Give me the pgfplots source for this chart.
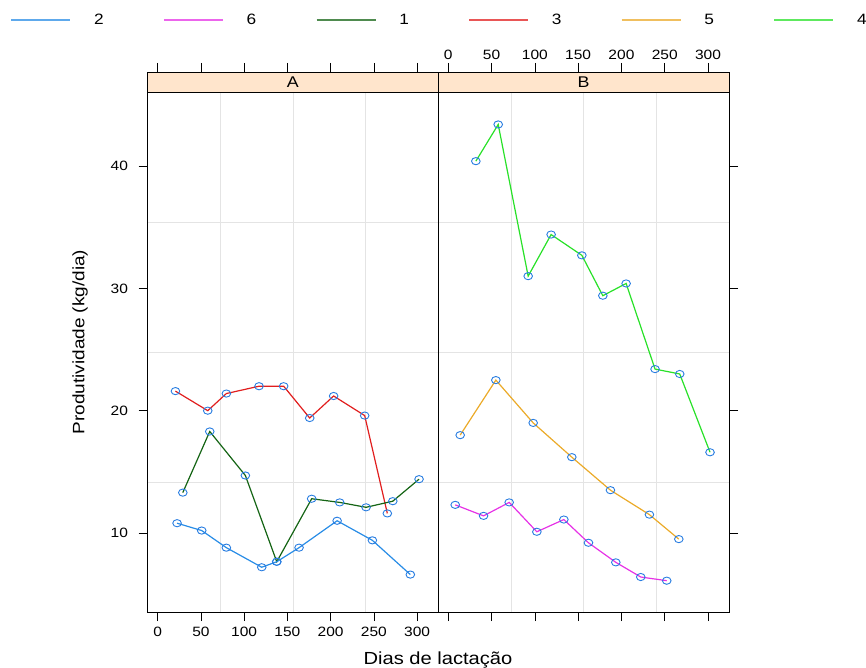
\documentclass[border=0pt]{standalone}
\usepackage{fontspec}
\setmainfont{Liberation Sans}[FakeStretch=1.15]
\usepackage{pgfplots}
\pgfplotsset{compat=1.18}
\definecolor{cTwo}{RGB}{40,140,230}
\definecolor{cSix}{RGB}{230,50,230}
\definecolor{cOne}{RGB}{20,100,20}
\definecolor{cThree}{RGB}{225,30,30}
\definecolor{cFive}{RGB}{235,170,40}
\definecolor{cFour}{RGB}{40,225,40}
\definecolor{mk}{RGB}{40,125,225}
\definecolor{strip}{RGB}{255,229,204}
\definecolor{gridc}{RGB}{228,228,228}
\pgfplotsset{
 panel/.style={scale only axis, height=540pt,
  xmin=-11.8, xmax=324.2, ymin=3.54, ymax=47.69,
  xtick={0,50,...,300}, ytick={10,20,30,40},
  tick align=outside, major tick length=9pt,
  tick style={black, line width=0.6pt},
  axis line style={line width=0.8pt},
  /pgf/number format/assume math mode=true,
  tick label style={font=\fontsize{13.5}{15}\selectfont},
  yticklabel style={xshift=-7pt},
  axis on top},
 ser/.style={mark=o, mark size=3.6pt, line width=1.2pt,
  mark options={solid, draw=mk, xscale=1.2, line width=0.9pt}},
}
\newcommand{\panelgrid}{%
 \draw[gridc, line width=0.8pt] (axis cs:72.4,3.54) -- (axis cs:72.4,46.05);
 \draw[gridc, line width=0.8pt] (axis cs:156.4,3.54) -- (axis cs:156.4,46.05);
 \draw[gridc, line width=0.8pt] (axis cs:240.4,3.54) -- (axis cs:240.4,46.05);
 \draw[gridc, line width=0.8pt] (axis cs:-11.8,14.1) -- (axis cs:324.2,14.1);
 \draw[gridc, line width=0.8pt] (axis cs:-11.8,24.75) -- (axis cs:324.2,24.75);
 \draw[gridc, line width=0.8pt] (axis cs:-11.8,35.4) -- (axis cs:324.2,35.4);}
\newcommand{\panelstrip}[1]{%
 \fill[strip] (rel axis cs:0,0.963) rectangle (rel axis cs:1,1);
 \draw[line width=0.8pt] (rel axis cs:0,0.963) -- (rel axis cs:1,0.963);
 \node[font=\fontsize{15.5}{17}\selectfont] at (rel axis cs:0.5,0.9815) {#1};}
\begin{document}
\begin{tikzpicture}
\path[use as bounding box] (0pt,0pt) rectangle (866pt,667pt);
\begin{axis}[panel, width=290.5pt, at={(147.5pt,55pt)}, anchor=south west,
  ytick pos=left, xtick pos=both, xticklabel pos=bottom,
  xticklabel style={yshift=-3pt},
  xlabel={Dias de lactação}, ylabel={Produtividade (kg/dia)},
  xlabel style={font=\fontsize{17.5}{19}\selectfont, at={(axis description cs:1.0,-0.0889)}, anchor=center},
  ylabel style={font=\fontsize{16.5}{18}\selectfont, at={(axis description cs:-0.232,0.5)}, anchor=center},
  legend columns=6,
  legend style={at={(axis description cs:-0.472,1.0963)}, anchor=west, draw=none, fill=none, inner sep=0pt,
    font=\fontsize{15}{17}\selectfont,
    /tikz/every odd column/.append style={column sep=21pt},
    /tikz/every even column/.append style={column sep=57.5pt}},
  legend image code/.code={\draw[#1, line width=1.5pt] (0pt,0pt) -- (59pt,0pt);},
]
\panelgrid
\addlegendimage{cTwo!75}\addlegendentry{2}
\addlegendimage{cSix!75}\addlegendentry{6}
\addlegendimage{cOne!75}\addlegendentry{1}
\addlegendimage{cThree!75}\addlegendentry{3}
\addlegendimage{cFive!75}\addlegendentry{5}
\addlegendimage{cFour!75}\addlegendentry{4}
% group 3
\addplot[ser, cThree, forget plot] coordinates {(20.5,21.6) (57.9,20.0) (79.4,21.4) (117.2,22.0) (145.7,22.0) (175.8,19.4) (203.5,21.2) (239.4,19.6) (265.6,11.6)};
% group 1
\addplot[ser, cOne, forget plot] coordinates {(29.0,13.3) (60.2,18.3) (101.4,14.7) (137.7,7.65) (178.1,12.8) (210.5,12.5) (241.0,12.1) (271.9,12.6) (302.3,14.4)};
% group 2
\addplot[ser, cTwo, forget plot] coordinates {(22.4,10.8) (50.9,10.2) (79.4,8.8) (120.3,7.2) (137.7,7.65) (163.5,8.8) (207.5,11.0) (248.3,9.4) (292.2,6.6)};
\panelstrip{A}
\end{axis}
\begin{axis}[panel, width=291pt, at={(438pt,55pt)}, anchor=south west,
  ytick pos=right, yticklabels={}, xtick pos=both, xticklabel pos=top]
\panelgrid
% group 4
\addplot[ser, cFour] coordinates {(31.9,40.4) (57.7,43.4) (92.3,31.0) (118.8,34.4) (154.3,32.7) (178.5,29.4) (205.4,30.4) (238.8,23.4) (267.3,23.0) (302.3,16.6)};
% group 5
\addplot[ser, cFive] coordinates {(13.8,18.0) (55.0,22.5) (98.1,19.0) (142.7,16.2) (187.3,13.5) (232.3,11.5) (266.2,9.5)};
% group 6
\addplot[ser, cSix] coordinates {(8.1,12.3) (40.8,11.4) (70.4,12.5) (102.3,10.1) (133.5,11.1) (161.9,9.2) (193.5,7.6) (222.3,6.4) (252.3,6.1)};
\panelstrip{B}
\end{axis}
\end{tikzpicture}
\end{document}
